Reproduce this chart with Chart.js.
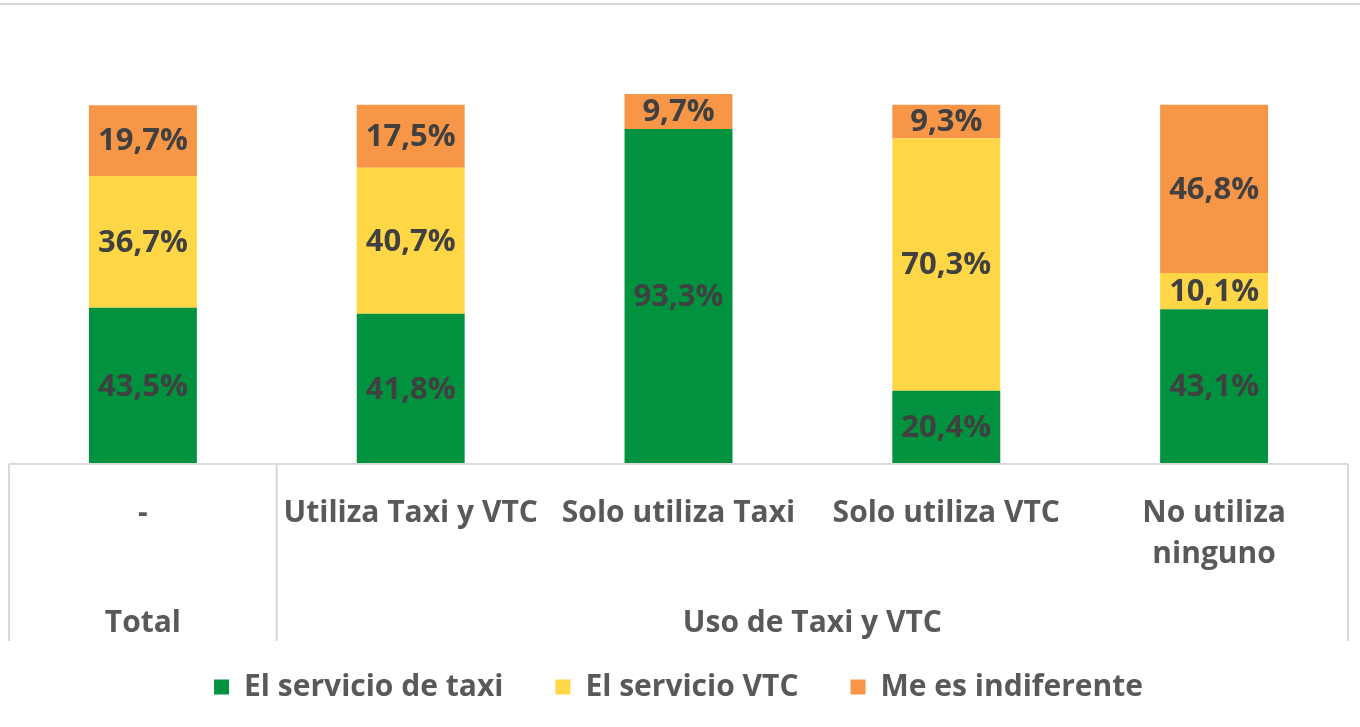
<!DOCTYPE html>
<html><head><meta charset="utf-8">
<script src="https://cdn.jsdelivr.net/npm/chart.js@4.4.1/dist/chart.umd.min.js"></script>
<style>html,body{margin:0;padding:0;background:#fff;overflow:hidden}#wrap{width:1360px;height:727px;position:relative}</style>
</head><body><div id="wrap"><canvas id="c" width="1360" height="727"></canvas></div>
<script>
const categories = ['-', 'Utiliza Taxi y VTC', 'Solo utiliza Taxi', 'Solo utiliza VTC', ['No utiliza', 'ninguno']];
const groups = ['Total', 'Uso de Taxi y VTC'];
const groupSpans = [[0, 0], [1, 4]];
const seriesNames = ['El servicio de taxi', 'El servicio VTC', 'Me es indiferente'];
const taxi = [43.5, 41.8, 93.3, 20.4, 43.1];
const vtc = [36.7, 40.7, null, 70.3, 10.1];
const indiferente = [19.7, 17.5, 9.7, 9.3, 46.8];
const colors = ['#00923F', '#FFD746', '#F79646'];

const FONT = "'Open Sans', 'Noto Sans', sans-serif";
const GRID = '#d9d9d9';

const decor = {
  id: 'decor',
  beforeDraw(chart) {
    const ctx = chart.ctx;
    ctx.save();
    ctx.strokeStyle = GRID; ctx.lineWidth = 2;
    ctx.beginPath(); ctx.moveTo(0, 4); ctx.lineTo(1360, 4); ctx.stroke();
    ctx.restore();
  },
  afterDraw(chart) {
    const ctx = chart.ctx, x = chart.scales.x, area = chart.chartArea;
    const yTop = area.bottom, yBot = 641;
    ctx.save();
    ctx.strokeStyle = GRID; ctx.lineWidth = 2;
    ctx.beginPath();
    ctx.moveTo(x.left, yTop); ctx.lineTo(x.right, yTop);
    const seps = [x.left, (x.getPixelForValue(0) + x.getPixelForValue(1)) / 2, x.right];
    seps.forEach(p => { ctx.moveTo(p, yTop); ctx.lineTo(p, yBot); });
    ctx.stroke();
    ctx.fillStyle = '#595959';
    ctx.font = "bold 30px " + FONT;
    ctx.textAlign = 'center'; ctx.textBaseline = 'middle';
    const half = (x.getPixelForValue(1) - x.getPixelForValue(0)) / 2;
    groups.forEach((g, i) => {
      const a = x.getPixelForValue(groupSpans[i][0]) - half;
      const b = x.getPixelForValue(groupSpans[i][1]) + half;
      ctx.fillText(g, (a + b) / 2, 623);
    });
    // value labels
    ctx.fillStyle = '#404040';
    ctx.font = "bold 31px " + FONT;
    chart.data.datasets.forEach((ds, di) => {
      const meta = chart.getDatasetMeta(di);
      meta.data.forEach((bar, i) => {
        const v = ds.data[i];
        if (v == null) return;
        const cy = (bar.y + bar.base) / 2;
        ctx.fillText(v.toFixed(1).replace('.', ',') + '%', bar.x, cy + 1);
      });
    });
    ctx.restore();
  }
};

new Chart(document.getElementById('c'), {
  type: 'bar',
  data: {
    labels: categories,
    datasets: [
      { label: seriesNames[0], data: taxi, backgroundColor: colors[0] },
      { label: seriesNames[1], data: vtc, backgroundColor: colors[1] },
      { label: seriesNames[2], data: indiferente, backgroundColor: colors[2] }
    ]
  },
  options: {
    responsive: false,
    animation: false,
    layout: { padding: { top: 33, left: 9, right: 12, bottom: 15 } },
    datasets: { bar: { categoryPercentage: 1, barPercentage: 0.403 } },
    scales: {
      x: {
        stacked: true,
        grid: { display: false, drawTicks: false },
        border: { display: false },
        ticks: { color: '#595959', font: { family: FONT, size: 30, weight: 'bold', lineHeight: 1.37 }, padding: 29, maxRotation: 0, autoSkip: false },
        afterFit(s) { s.height = 156; }
      },
      y: { stacked: true, display: false, min: 0, max: 120 }
    },
    plugins: {
      legend: {
        position: 'bottom',
        labels: { color: '#595959', font: { family: FONT, size: 30, weight: 'bold' }, boxWidth: 15, boxHeight: 15, padding: 52 }
      },
      tooltip: { enabled: false }
    }
  },
  plugins: [decor]
});
</script></body></html>
